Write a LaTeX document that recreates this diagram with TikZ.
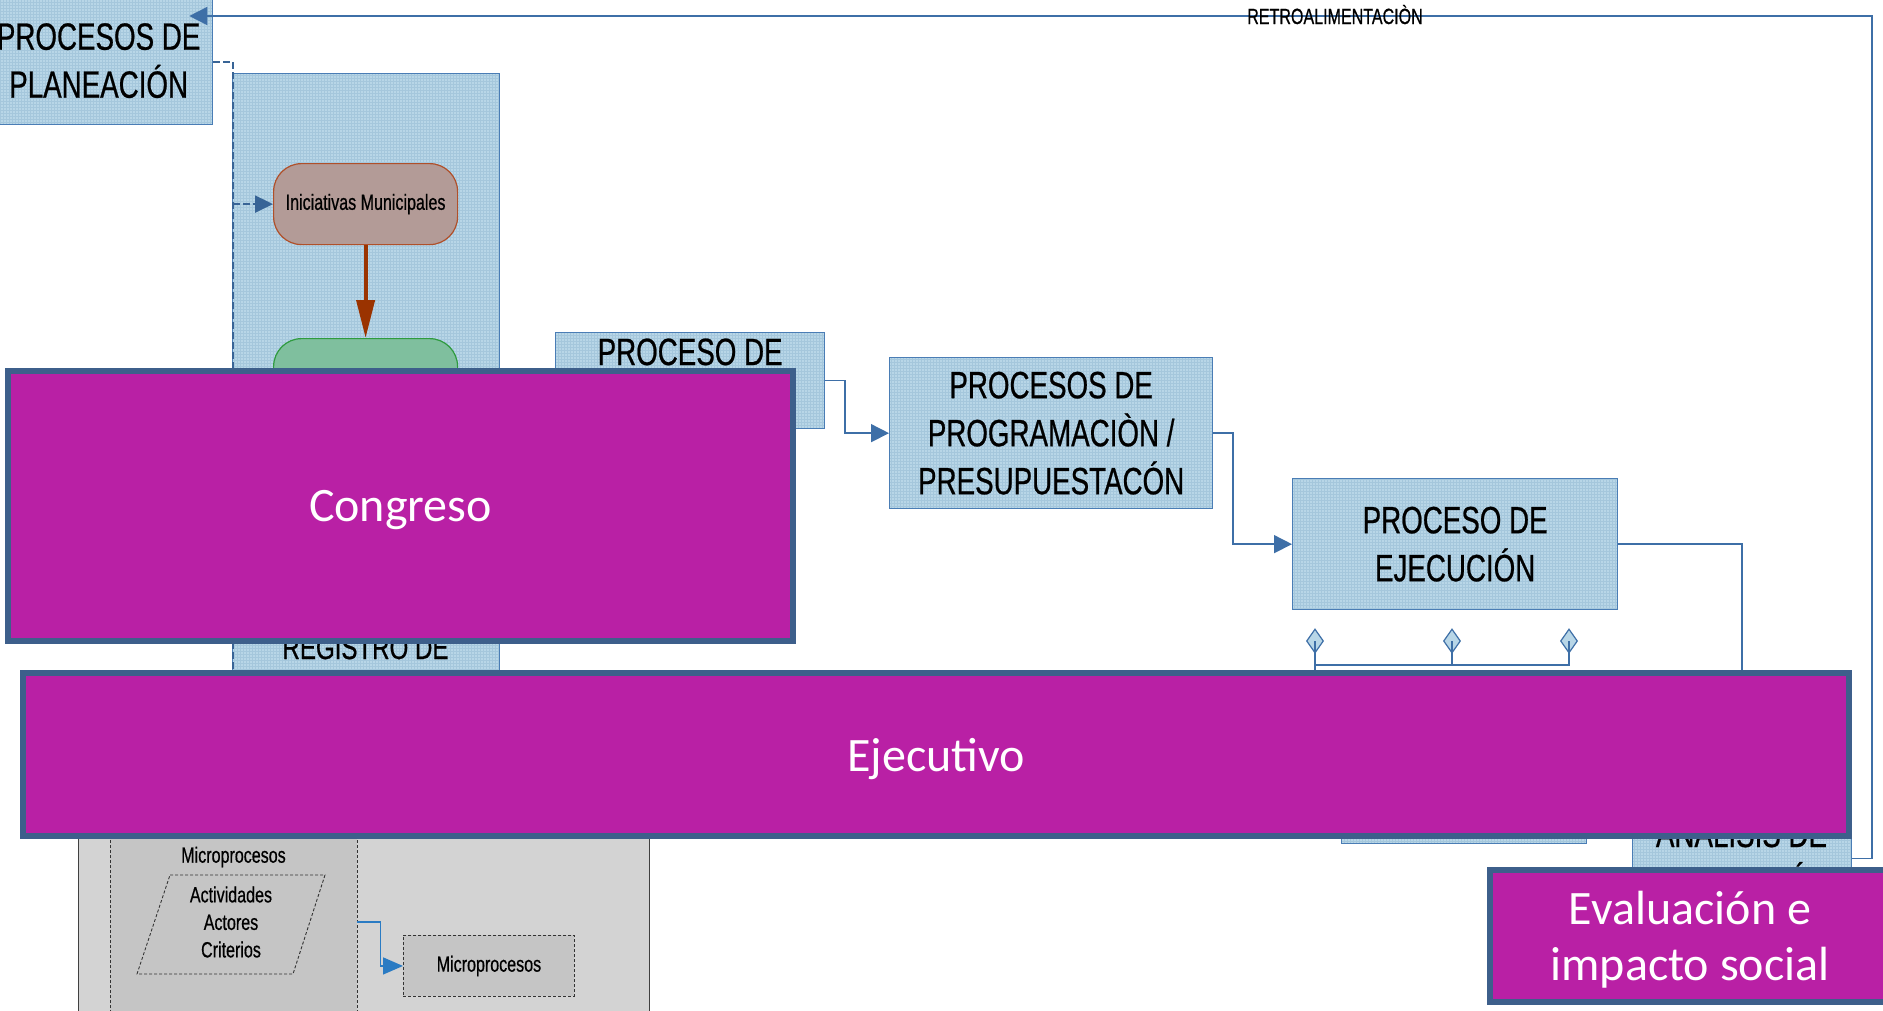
\documentclass[tikz,border=0pt]{standalone}
\usepackage{fontspec}
\newfontfamily\narrowfont[FakeStretch=0.73,FakeBold=0.6]{Liberation Sans}
\newfontfamily\calfont{Carlito}
\usetikzlibrary{arrows.meta,shapes.geometric,calc}

\definecolor{boxfill}{HTML}{B8D6E7}
\definecolor{boxgrid}{HTML}{A5C7DC}
\definecolor{boxline}{HTML}{4A7DB5}
\definecolor{conn}{HTML}{3E6FA7}
\definecolor{magfill}{HTML}{B920A5}
\definecolor{magline}{HTML}{3D5F8B}
\definecolor{inicfill}{HTML}{B39B97}
\definecolor{inicline}{HTML}{B0502A}
\definecolor{greenfill}{HTML}{7FBF9E}
\definecolor{greenline}{HTML}{2F9B3F}
\definecolor{brownarr}{HTML}{9A3300}
\definecolor{grayA}{HTML}{D3D3D3}
\definecolor{grayB}{HTML}{C5C5C5}
\definecolor{microarr}{HTML}{2A7BC3}

\newcommand\procfont{\narrowfont\fontsize{38}{48}\selectfont}
\newcommand\regfont{\narrowfont\fontsize{33}{42}\selectfont}
\newcommand\notefont{\narrowfont\fontsize{22}{27.5}\selectfont}
\newcommand\magfont{\calfont\fontsize{48}{56}\selectfont}

\tikzset{
  gridded/.style={path picture={
      \draw[boxgrid, line width=0.35pt, step=3pt]
        (path picture bounding box.south west) grid (path picture bounding box.north east);}},
  procbox/.style={draw=boxline, fill=boxfill, gridded, line width=1.3pt, inner sep=0pt,
    anchor=north west, font=\procfont, align=center},
  panel/.style={draw=boxline, fill=boxfill, gridded, line width=1.1pt, inner sep=0pt, anchor=north west},
  startbox/.style={draw=inicline, fill=inicfill, line width=1.2pt, rounded corners=28pt,
    inner sep=0pt, anchor=north west, font=\notefont},
  greenbox/.style={draw=greenline, fill=greenfill, line width=1.2pt, rounded corners=28pt,
    inner sep=0pt, anchor=north west},
  magbox/.style={draw=magline, fill=magfill, line width=6pt, inner sep=0pt, text depth=0pt,
    anchor=north west, text=white, font=\magfont, align=center},
  flowline/.style={draw=conn, line width=1.5pt},
  arrowtip/.style={-{Triangle[length=18pt,width=18pt]}},
  dashlane/.style={draw=conn!90!black, line width=2.2pt, dash pattern=on 7pt off 3pt},
  diam/.style={diamond, draw=conn, fill=boxfill, line width=1.2pt, inner sep=0pt,
    minimum width=17pt, minimum height=24pt},
  grayedge/.style={draw=black!75, line width=0.9pt},
  dashgray/.style={draw=black!80, line width=0.9pt, dash pattern=on 3pt off 2pt},
  plaintext/.style={inner sep=0pt, font=\procfont},
  smalltext/.style={inner sep=0pt, font=\notefont, align=center},
}

\begin{document}
\begin{tikzpicture}[x=1pt,y=-1pt]
\useasboundingbox (0,0) rectangle (1883,1010);
\clip (0,0) rectangle (1883,1010);
\fill[white] (0,0) rectangle (1883,1010);

% planning stage
\node[procbox, minimum width=228pt, minimum height=128pt] (plan) at (-16,-4) {PROCESOS DE\\PLANEACIÓN};

% legislative lane with the municipal initiatives
\node[panel, minimum width=267pt, minimum height=640pt] (reg) at (232,73) {};
\coordinate (lanetop) at (233,62);
\draw[dashlane] (plan.east |- lanetop) -- (lanetop) -- (lanetop |- reg.south);
\node[startbox, minimum width=184pt, minimum height=81pt] (inic) at (273,163) {Iniciativas Municipales};
\draw[dashlane, -{Triangle[length=18pt,width=17pt]}] (lanetop |- inic.west) -- (inic.west);
\node[greenbox, minimum width=184pt, minimum height=100pt] (green) at (273,338) {};
\draw[draw=brownarr, line width=4pt, -{Triangle[length=38pt,width=18pt]}] (inic.south) -- (green.north);
\node[inner sep=0pt, font=\regfont, anchor=base] (regtxt) at (365.5,659) {REGISTRO DE};

% approval, programming and execution stages
\node[procbox, minimum width=269pt, minimum height=96pt] (prop) at (555,332) {};
\node[plaintext, anchor=base] (proptxt) at ($(prop.north)+(0,33)$) {PROCESO DE};
\node[procbox, minimum width=323pt, minimum height=151pt] (prog) at (889,357)
  {PROCESOS DE\\PROGRAMACIÒN /\\PRESUPUESTACÓN};
\coordinate (j1) at (845,0);
\draw[flowline, arrowtip] (prop.east) -- (prop.east -| j1) -- (j1 |- prog.west) -- (prog.west);

\node[procbox, minimum width=325pt, minimum height=131pt] (ejec) at (1292,478) {PROCESO DE\\EJECUCIÓN};
\coordinate (j2) at (1233,0);
\draw[flowline, arrowtip] (prog.east) -- (prog.east -| j2) -- (j2 |- ejec.west) -- (ejec.west);

% analysis stage
\node[procbox, minimum width=219pt, minimum height=142pt] (anal) at (1632,787) {};
\node[plaintext, anchor=base] (analtxt) at (1741.5,847) {ANALISIS DE};
\node[plaintext, anchor=base] (analtxtb) at (1741.5,895) {EVALUACIÓN};
\draw[flowline] (ejec.east) -- (ejec.east -| anal.north) -- (anal.north);

% control box and its diamond links
\node[panel, minimum width=245pt, minimum height=83pt] (ctrl) at (1341,760) {};
\node[diam] (d1) at (1315,641) {};
\node[diam] (d2) at (1452,641) {};
\node[diam] (d3) at (1569,641) {};
\coordinate (bus) at (0,665);
\coordinate (drop) at (0,740);
\draw[flowline] (d1.center) -- (d1.center |- bus) -- (d3.center |- bus) -- (d3.center);
\draw[flowline] (d2.center) -- (d2.center |- bus);
\draw[flowline] (d1.center |- bus) -- (d1.center |- drop);

% feedback loop
\coordinate (retroR) at (1872,16);
\draw[flowline, arrowtip] (anal.east) -- (anal.east -| retroR) -- (retroR) -- ($(plan.north east)+(-24,20)$);
\node[inner sep=0pt, font=\notefont, anchor=base] (retrotxt) at (1335,24) {RETROALIMENTACIÒN};

% micro-process area
\node[grayedge, fill=grayA, minimum width=571pt, minimum height=240pt, inner sep=0pt, anchor=north west] (micro) at (78,800) {};
\node[fill=grayB, minimum width=247pt, minimum height=240pt, inner sep=0pt, anchor=north west] (lane) at (110,800) {};
\draw[dashgray] (lane.north west) -- (lane.south west);
\draw[dashgray] (lane.north east) -- (lane.south east);
\node[smalltext] (lanetitle) at (233.5,857) {Microprocesos};
\draw[dashgray] (170,875) -- (325,875) -- (293,974) -- (137,974) -- cycle;
\node[smalltext] (acts) at (231,922) {Actividades\\Actores\\Criterios};
\node[dashgray, fill=grayB, minimum width=171pt, minimum height=61pt, inner sep=0pt,
  anchor=north west, font=\notefont] (mbox) at (403,935) {Microprocesos};
\draw[draw=microarr, line width=1.5pt, -{Triangle[length=20pt,width=17pt]}]
  (acts -| lane.east) -- ++(23,0) |- (mbox.west);

% actors
\node[magbox, minimum width=785pt, minimum height=270pt] (cong) at (5,368) {Congreso};
\node[magbox, minimum width=1826pt, minimum height=163pt] (ejecutivo) at (20,670) {Ejecutivo};
\node[magbox, minimum width=400pt, minimum height=132pt] (evalua) at (1487,867) {Evaluación e\\impacto social};
\end{tikzpicture}
\end{document}
